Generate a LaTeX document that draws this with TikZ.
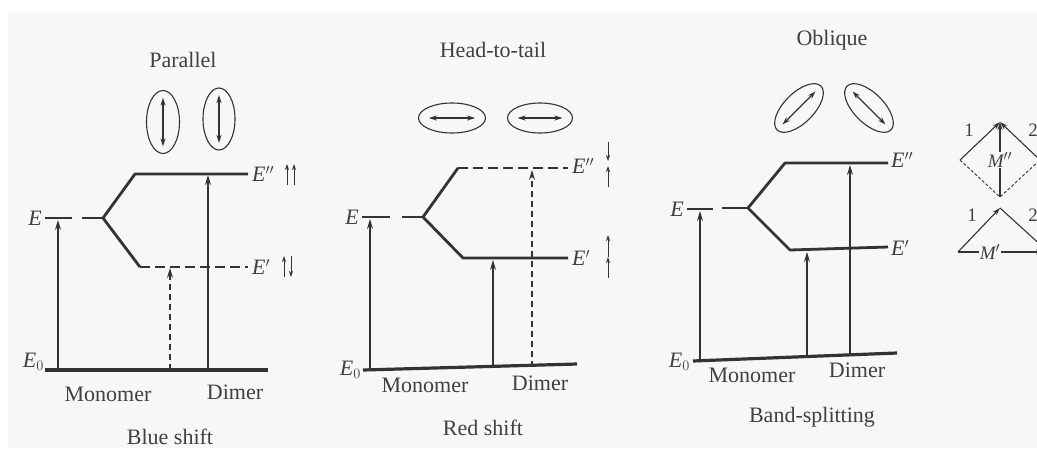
\documentclass[tikz,border=0pt]{standalone}
\usepackage{fontspec}
\setmainfont{Liberation Serif}
\usetikzlibrary{arrows.meta,shapes.geometric,calc}
\definecolor{ink}{HTML}{333333}
\definecolor{txt}{HTML}{404040}
\definecolor{paper}{HTML}{F7F7F7}
\begin{document}
\begin{tikzpicture}[x=1pt,y=-1pt,
 lvl/.style={ink,line width=2.8pt},
 lvldash/.style={lvl,dash pattern=on 10pt off 5pt},
 trans/.style={ink,line width=1.2pt,-{Stealth[length=10pt,width=6pt]}},
 transdash/.style={trans,dash pattern=on 6pt off 4pt},
 lab/.style={txt,font=\fontsize{22}{26}\selectfont,inner sep=0pt},
 elab/.style={lab,font=\fontsize{22}{26}\selectfont\itshape},
 small/.style={txt,font=\fontsize{19}{22}\selectfont,inner sep=0pt},
 dip/.style={ellipse,draw=ink,line width=1.1pt,inner sep=0pt},
 dipar/.style={ink,line width=1.3pt,{Stealth[length=8pt,width=5pt]}-{Stealth[length=8pt,width=5pt]}},
 spin/.style={ink,line width=1pt,-{Stealth[length=6pt,width=4pt]}},
 vec/.style={ink,line width=1.1pt,-{Stealth[length=8pt,width=5pt]}},
 vecdash/.style={ink,line width=0.9pt,dash pattern=on 3pt off 2pt},
]
\useasboundingbox (0,0) rectangle (1037,448);
\clip (0,0) rectangle (1037,448);
\fill[white] (0,0) rectangle (1037,448);
\fill[paper] (8,12) rectangle (1037,448);

%% ---------------- Panel 1: Parallel ----------------
\node[lab] (t1) at (183,60) {Parallel};
\node[dip,minimum width=33pt,minimum height=63pt] (d1a) at (163,122) {};
\node[dip,minimum width=32pt,minimum height=62pt] (d1b) at (219,119) {};
\draw[dipar,line width=2.4pt] ($(d1a.north)!0.12!(d1a.south)$) -- ($(d1a.south)!0.12!(d1a.north)$);
\draw[dipar] ($(d1b.north)!0.12!(d1b.south)$) -- ($(d1b.south)!0.12!(d1b.north)$);

\coordinate (g1a) at (45,370); \coordinate (g1b) at (268,370);
\draw[lvl,line width=3.2pt] (g1a) -- (g1b);
\coordinate (f1) at (103,218);
\draw[lvl] (45,218) -- (72,218);
\draw[lvl] (82,218) -- (f1);
\coordinate (u1) at (135,174); \coordinate (u1e) at (248,174);
\coordinate (l1) at (140,267); \coordinate (l1e) at (248,267);
\draw[lvl,line join=round] (f1) -- (u1) -- (u1e);
\draw[lvl,line join=round] (f1) -- (l1);
\draw[lvldash] (l1) -- (l1e);
\node[elab,anchor=east] (E1) at (42,218) {E};
\node[elab,anchor=east] (E10) at (44,362) {E$_0$};
\node[elab,anchor=west] (E1pp) at (252,174) {E$''$};
\node[elab,anchor=west] (E1p) at (252,267) {E$'$};
\draw[spin] (287,185) -- (287,164);
\draw[spin] (294,185) -- (294,164);
\draw[spin] (284,277) -- (284,256);
\draw[spin] (291,256) -- (291,277);
\draw[trans] (58,370) -- (58,220);
\draw[transdash] (170,370) -- (170,268);
\draw[trans] (208,370) -- (208,175);
\node[lab] (m1) at (108,394) {Monomer};
\node[lab] (dm1) at (235,392) {Dimer};
\node[lab] (s1) at (170,437) {Blue shift};

%% ---------------- Panel 2: Head-to-tail ----------------
\node[lab] (t2) at (493,50) {Head-to-tail};
\node[dip,minimum width=67pt,minimum height=30pt] (d2a) at (452,118) {};
\node[dip,minimum width=65pt,minimum height=30pt] (d2b) at (540,118) {};
\draw[dipar] ($(d2a.west)!0.16!(d2a.east)$) -- ($(d2a.east)!0.16!(d2a.west)$);
\draw[dipar] ($(d2b.west)!0.16!(d2b.east)$) -- ($(d2b.east)!0.16!(d2b.west)$);

\coordinate (g2a) at (363,370); \coordinate (g2b) at (577,364);
\draw[lvl,line width=3.2pt] (g2a) -- (g2b);
\coordinate (f2) at (423,217);
\draw[lvl] (362,217) -- (390,217);
\draw[lvl] (402,217) -- (f2);
\coordinate (u2) at (458,168); \coordinate (u2e) at (568,168);
\coordinate (l2) at (463,258); \coordinate (l2e) at (568,258);
\draw[lvl,line join=round] (f2) -- (u2);
\draw[lvldash] (u2) -- (u2e);
\draw[lvl,line join=round] (f2) -- (l2) -- (l2e);
\node[elab,anchor=east] (E2) at (359,217) {E};
\node[elab,anchor=east] (E20) at (361,370) {E$_0$};
\node[elab,anchor=west] (E2pp) at (572,166) {E$''$};
\node[elab,anchor=west] (E2p) at (572,258) {E$'$};
\draw[spin] (608,142) -- (608,161);
\draw[spin] (608,187) -- (608,166);
\draw[spin] (608,257) -- (608,235);
\draw[spin] (608,278) -- (608,257);
\draw[trans] (370,370) -- (370,219);
\draw[trans] (493,368) -- (493,260);
\draw[transdash] (532,367) -- (532,170);
\node[lab] (m2) at (425,385) {Monomer};
\node[lab] (dm2) at (540,383) {Dimer};
\node[lab] (s2) at (483,428) {Red shift};

%% ---------------- Panel 3: Oblique ----------------
\node[lab] (t3) at (832,40) {Oblique};
\node[dip,minimum width=62pt,minimum height=30pt,rotate=45] (d3a) at (799,108) {};
\node[dip,minimum width=62pt,minimum height=30pt,rotate=-45] (d3b) at (869,108) {};
\draw[dipar] ($(d3a.west)!0.13!(d3a.east)$) -- ($(d3a.east)!0.13!(d3a.west)$);
\draw[dipar] ($(d3b.west)!0.13!(d3b.east)$) -- ($(d3b.east)!0.13!(d3b.west)$);

\coordinate (g3a) at (693,361); \coordinate (g3b) at (897,353);
\draw[lvl,line width=3.2pt] (g3a) -- (g3b);
\coordinate (f3) at (748,208);
\draw[lvl] (687,209) -- (713,209);
\draw[lvl] (722,208) -- (f3);
\coordinate (u3) at (785,163); \coordinate (u3e) at (888,163);
\coordinate (l3) at (790,250); \coordinate (l3e) at (888,247);
\draw[lvl,line join=round] (f3) -- (u3) -- (u3e);
\draw[lvl,line join=round] (f3) -- (l3) -- (l3e);
\node[elab,anchor=east] (E3) at (684,209) {E};
\node[elab,anchor=east] (E30) at (690,362) {E$_0$};
\node[elab,anchor=west] (E3pp) at (891,160) {E$''$};
\node[elab,anchor=west] (E3p) at (891,248) {E$'$};
\draw[trans] (700,361) -- (700,211);
\draw[trans] (807,357) -- (807,252);
\draw[trans] (850,355) -- (850,165);
\node[lab] (m3) at (752,375) {Monomer};
\node[lab] (dm3) at (857,370) {Dimer};
\node[lab] (s3) at (812,417) {Band-splitting};

%% ---------------- Vector diagrams ----------------
\coordinate (vL) at (960,160); \coordinate (vT) at (1000,122);
\coordinate (vB) at (1000,197); \coordinate (vR) at (1040,160);
\draw[vecdash] (vL) -- (vB) -- (vR);
\draw[vec] (vL) -- (vT);
\draw[vec] (vR) -- (vT);
\draw[vec] (vB) -- (vT);
\node[small,fill=paper,inner sep=1pt,font=\fontsize{19}{22}\selectfont\itshape] (Mpp) at (1000,160) {M$''$};
\node[small] (n1a) at (969,130) {1};
\node[small] (n2a) at (1033,130) {2};

\coordinate (wL) at (958,252); \coordinate (wA) at (1000,208);
\coordinate (wR) at (1044,248); \coordinate (wE) at (1044,252);
\draw[vec] (wL) -- (wA);
\draw[vec] (wA) -- (wR);
\draw[vec] (wL) -- (wE);
\node[small,fill=paper,inner sep=1pt,font=\fontsize{19}{22}\selectfont\itshape] (Mp) at (990,252) {M$'$};
\node[small] (n1b) at (972,215) {1};
\node[small] (n2b) at (1033,215) {2};
\end{tikzpicture}
\end{document}
